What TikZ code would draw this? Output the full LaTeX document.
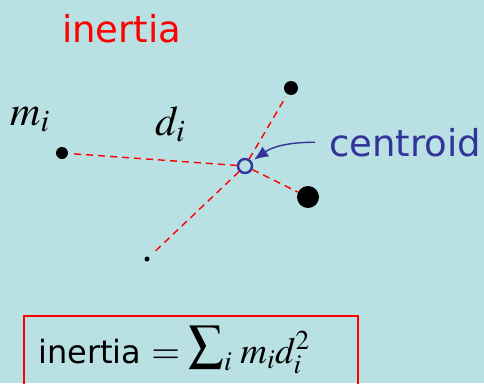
\documentclass[tikz,border=0pt]{standalone}
\usepackage{mathptmx}
\usepackage{fontspec}
\setmainfont{DejaVu Sans}
\usetikzlibrary{arrows.meta,positioning}
\definecolor{bg}{RGB}{185,224,227}
\definecolor{navy}{RGB}{51,51,153}
\newcommand{\bigsum}{\mathop{\raisebox{3pt}{\fontsize{50}{54}\selectfont$\textstyle\sum$}}\nolimits}

\begin{document}
\begin{tikzpicture}[x=1pt,y=-1pt,
  dot/.style={circle,fill=black,inner sep=0pt},
  link/.style={draw=red,line width=1.4pt,dash pattern=on 7pt off 5pt},
  lbl/.style={anchor=base west,inner sep=0pt},
  ar/.style={-{Latex[length=14pt,width=12pt]},navy,line width=1.4pt}]
\useasboundingbox (0,0) rectangle (484,383);
\fill[bg] (0,0) rectangle (484,383);
\node[lbl,red,font=\fontsize{37}{40}\selectfont] (t) at (62,42) {inertia};
% masses round the centroid
\node[dot,minimum size=12pt] (m) at (62,153) {};
\node[dot,minimum size=14pt] (a) at (291,88) {};
\node[dot,minimum size=22pt] (b) at (308,197) {};
\node[dot,minimum size=5pt] (s) at (147,259) {};
\node[circle,draw=navy,line width=2.4pt,inner sep=0pt,minimum size=14pt] (c) at (245,166) {};
\draw[link,shorten >=2pt] (c) -- (m);
\draw[link,shorten >=3pt] (c) -- (a);
\draw[link] (c) -- (b);
\draw[link,shorten >=9pt] (c) -- (s);
\node[lbl,font=\fontsize{42}{46}\selectfont] (mi) at (10,125) {$m_i$};
\node[lbl,font=\fontsize{42}{46}\selectfont] (di) at (155,135) {$d_i$};
\node[anchor=base west,inner xsep=14pt,inner ysep=0pt,navy,font=\fontsize{37}{40}\selectfont] (ct) at (315,156) {centroid};
\draw[ar,shorten >=3pt] (ct.west) to[out=180,in=35] (c);
% formula box
\draw[red,line width=1.6pt] (24,316) rectangle (358,395);
\node[lbl,font=\fontsize{32}{36}\selectfont] (f) at (38,363)
  {inertia {\fontsize{37}{42}\selectfont$=\bigsum_i\, m_i d_i^2$}};
\end{tikzpicture}
\end{document}
